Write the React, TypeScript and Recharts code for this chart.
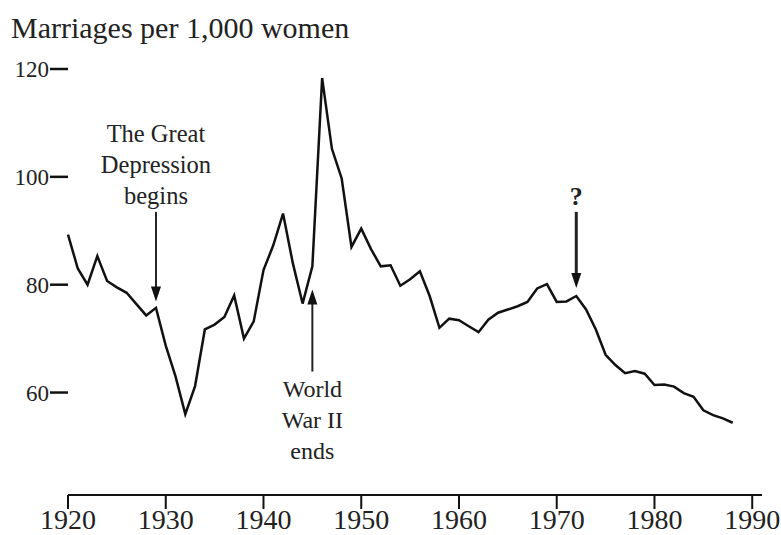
import { LineChart, Line, XAxis, YAxis, ReferenceLine, ReferenceDot } from 'recharts';

const years = [
  1920, 1921, 1922, 1923, 1924, 1925, 1926, 1927, 1928, 1929,
  1930, 1931, 1932, 1933, 1934, 1935, 1936, 1937, 1938, 1939,
  1940, 1941, 1942, 1943, 1944, 1945, 1946, 1947, 1948, 1949,
  1950, 1951, 1952, 1953, 1954, 1955, 1956, 1957, 1958, 1959,
  1960, 1961, 1962, 1963, 1964, 1965, 1966, 1967, 1968, 1969,
  1970, 1971, 1972, 1973, 1974, 1975, 1976, 1977, 1978, 1979,
  1980, 1981, 1982, 1983, 1984, 1985, 1986, 1987, 1988,
];

// marriages per 1,000 women
const rates = [
  89.3, 83.0, 80.0, 85.3, 80.7, 79.5, 78.5, 76.4, 74.3, 75.7,
  68.7, 63.0, 56.0, 61.2, 71.7, 72.6, 74.0, 78.0, 70.0, 73.2,
  82.7, 87.3, 93.2, 84.0, 76.5, 83.4, 118.3, 105.2, 99.7, 87.0,
  90.4, 86.6, 83.4, 83.6, 79.8, 81.0, 82.5, 77.9, 72.0, 73.7,
  73.4, 72.3, 71.2, 73.5, 74.8, 75.4, 76.0, 76.8, 79.3, 80.1,
  76.8, 76.9, 77.9, 75.4, 71.7, 67.0, 65.1, 63.6, 64.0, 63.5,
  61.4, 61.5, 61.1, 59.9, 59.2, 56.7, 55.8, 55.2, 54.4,
];

const xTicks = [1920, 1930, 1940, 1950, 1960, 1970, 1980, 1990];
const yTicks = [60, 80, 100, 120];

const depressionLines = ['The Great', 'Depression', 'begins'];
const warLines = ['World', 'War II', 'ends'];
const questionLines = ['?'];

const data = years.map((year, i) => ({ year, rate: rates[i] }));

const FONT = '"Liberation Serif", "Times New Roman", serif';

const arrowShape = (up: boolean, width = 2) => (p: any) => {
  const { x1, y1, x2, y2 } = p;
  const x = x1;
  const tip = up ? Math.min(y1, y2) : Math.max(y1, y2);
  const tail = up ? Math.max(y1, y2) : Math.min(y1, y2);
  const head = 15;
  const dir = up ? 1 : -1;
  return (
    <g>
      <line x1={x} y1={tail} x2={x} y2={tip + dir * (head - 2)} stroke="#222" strokeWidth={width} />
      <polygon
        points={`${x - 5},${tip + dir * head} ${x + 5},${tip + dir * head} ${x},${tip}`}
        fill="#111"
      />
    </g>
  );
};

const textShape = (lines: string[], bold = false, size = 24) => (p: any) => (
  <text x={p.cx} y={p.cy} textAnchor="middle" fontFamily={FONT} fontSize={size} fontWeight={bold ? 700 : 400} fill="#222">
    {lines.map((l, i) => (
      <tspan key={l} x={p.cx} dy={i === 0 ? 0 : 31}>{l}</tspan>
    ))}
  </text>
);

const App = () => {
  return (
    <div style={{ position: 'absolute', left: 0, top: 0, width: 781, height: 535, background: '#fff' }}>
      <div style={{ position: 'absolute', left: 11, top: 11, fontFamily: FONT, fontSize: 30, color: '#222', whiteSpace: 'nowrap' }}>
        Marriages per 1,000 women
      </div>
      <LineChart width={781} height={535} data={data} margin={{ top: 69, right: 19, bottom: 0, left: 0 }}>
        <XAxis
          dataKey="year"
          type="number"
          domain={[1920, 1991]}
          ticks={xTicks}
          interval={0}
          height={40}
          tickSize={14}
          tickMargin={0}
          axisLine={{ stroke: '#111', strokeWidth: 2 }}
          tickLine={{ stroke: '#111', strokeWidth: 2 }}
          tick={{ fill: '#222', fontSize: 28, fontFamily: FONT }}
        />
        <YAxis
          type="number"
          domain={[41, 120]}
          ticks={yTicks}
          interval={0}
          width={68}
          tickSize={18}
          tickMargin={1}
          axisLine={false}
          tickLine={{ stroke: '#111', strokeWidth: 2.5 }}
          tick={{ fill: '#222', fontSize: 23, fontFamily: FONT }}
        />
        <Line
          type="linear"
          dataKey="rate"
          stroke="#111"
          strokeWidth={2.5}
          dot={false}
          isAnimationActive={false}
        />
        <ReferenceLine segment={[{ x: 1929, y: 93.5 }, { x: 1929, y: 76.9 }]} shape={arrowShape(false)} />
        <ReferenceLine segment={[{ x: 1945, y: 79.1 }, { x: 1945, y: 63.9 }]} shape={arrowShape(true)} />
        <ReferenceLine segment={[{ x: 1972, y: 93.5 }, { x: 1972, y: 79.4 }]} shape={arrowShape(false, 3)} />
        <ReferenceDot x={1929} y={106.5} r={0} shape={textShape(depressionLines, false, 24.5)} />
        <ReferenceDot x={1945} y={59.1} r={0} shape={textShape(warLines)} />
        <ReferenceDot x={1972} y={94.8} r={0} shape={textShape(questionLines, true, 26)} />
      </LineChart>
    </div>
  );
};

export default App;
